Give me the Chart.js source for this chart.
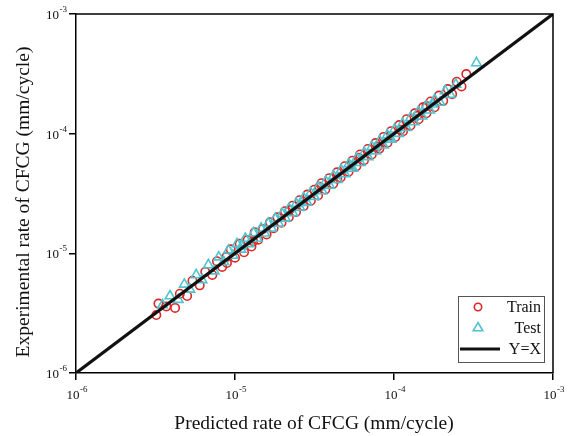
<!DOCTYPE html>
<html>
<head>
<meta charset="utf-8">
<script src="https://cdn.jsdelivr.net/npm/chart.js@4.4.1/dist/chart.umd.min.js"></script>
<style>
  body { margin: 0; background: #fff; }
  #wrap { width: 573px; height: 436px; }
</style>
</head>
<body>
<div id="wrap"><canvas id="chart" width="573" height="436"></canvas></div>
<script>
// decade ticks and their exponent labels
const decades = [1e-6, 1e-5, 1e-4, 1e-3];
const tickExponents = ['-6', '-5', '-4', '-3'];

// Train: predicted (x) vs experimental (y)
const trainPred = [3.2e-6, 3.3e-6, 3.7e-6, 4.2e-6, 4.5e-6, 5.0e-6, 5.4e-6, 6.0e-6, 6.5e-6, 7.2e-6,
  7.7e-6, 8.3e-6, 8.9e-6, 9.4e-6, 1.0e-5, 1.07e-5, 1.14e-5, 1.2e-5, 1.27e-5, 1.33e-5,
  1.4e-5, 1.5e-5, 1.58e-5, 1.66e-5, 1.75e-5, 1.85e-5, 1.96e-5, 2.06e-5, 2.18e-5, 2.3e-5,
  2.42e-5, 2.55e-5, 2.7e-5, 2.85e-5, 3.0e-5, 3.15e-5, 3.33e-5, 3.5e-5, 3.7e-5, 3.92e-5,
  4.15e-5, 4.38e-5, 4.62e-5, 4.9e-5, 5.18e-5, 5.48e-5, 5.8e-5, 6.12e-5, 6.48e-5, 6.85e-5,
  7.25e-5, 7.65e-5, 8.1e-5, 8.6e-5, 9.1e-5, 9.6e-5, 1.02e-4, 1.08e-4, 1.14e-4, 1.2e-4,
  1.27e-4, 1.35e-4, 1.43e-4, 1.52e-4, 1.6e-4, 1.7e-4, 1.8e-4, 1.92e-4, 2.04e-4, 2.18e-4,
  2.32e-4, 2.48e-4, 2.66e-4, 2.85e-4,
  2.2e-5, 4.4e-5, 6.0e-5, 1.1e-4, 1.6e-4, 8.8e-6, 1.3e-5, 3.4e-5, 7.9e-5, 1.4e-4];
const trainExp = [3.05e-6, 3.8e-6, 3.6e-6, 3.5e-6, 4.6e-6, 4.4e-6, 5.9e-6, 5.4e-6, 7.0e-6, 6.6e-6,
  8.6e-6, 7.7e-6, 8.3e-6, 1.08e-5, 9.2e-6, 1.2e-5, 1.02e-5, 1.29e-5, 1.14e-5, 1.5e-5,
  1.3e-5, 1.6e-5, 1.44e-5, 1.82e-5, 1.62e-5, 2.0e-5, 1.8e-5, 2.25e-5, 2.0e-5, 2.5e-5,
  2.22e-5, 2.78e-5, 2.48e-5, 3.1e-5, 2.75e-5, 3.4e-5, 3.05e-5, 3.85e-5, 3.42e-5, 4.25e-5,
  3.82e-5, 4.75e-5, 4.3e-5, 5.35e-5, 4.8e-5, 5.95e-5, 5.35e-5, 6.7e-5, 6.0e-5, 7.45e-5,
  6.7e-5, 8.35e-5, 7.5e-5, 9.4e-5, 8.4e-5, 1.05e-4, 9.4e-5, 1.18e-4, 1.05e-4, 1.32e-4,
  1.17e-4, 1.48e-4, 1.32e-4, 1.66e-4, 1.48e-4, 1.86e-4, 1.66e-4, 2.08e-4, 1.88e-4, 2.36e-4,
  2.14e-4, 2.72e-4, 2.48e-4, 3.15e-4,
  2.3e-5, 4.2e-5, 6.3e-5, 1.08e-4, 1.7e-4, 9.3e-6, 1.26e-5, 3.6e-5, 7.8e-5, 1.41e-4];

// Test: predicted (x) vs experimental (y)
const testPred = [3.5e-6, 3.9e-6, 4.4e-6, 4.8e-6, 5.2e-6, 5.7e-6, 6.2e-6, 6.8e-6, 7.4e-6, 7.9e-6,
  8.5e-6, 9.1e-6, 9.7e-6, 1.03e-5, 1.09e-5, 1.16e-5, 1.23e-5, 1.31e-5, 1.38e-5, 1.46e-5,
  1.54e-5, 1.62e-5, 1.7e-5, 1.79e-5, 1.88e-5, 1.98e-5, 2.08e-5, 2.19e-5, 2.31e-5, 2.43e-5,
  2.56e-5, 2.7e-5, 2.84e-5, 2.99e-5, 3.16e-5, 3.34e-5, 3.53e-5, 3.73e-5, 3.94e-5, 4.16e-5,
  4.4e-5, 4.65e-5, 4.92e-5, 5.2e-5, 5.5e-5, 5.82e-5, 6.15e-5, 6.5e-5, 6.87e-5, 7.26e-5,
  7.68e-5, 8.12e-5, 8.58e-5, 9.07e-5, 9.6e-5, 1.01e-4, 1.07e-4, 1.13e-4, 1.2e-4, 1.27e-4,
  1.34e-4, 1.42e-4, 1.5e-4, 1.59e-4, 1.68e-4, 1.8e-4, 1.95e-4, 2.1e-4, 2.26e-4, 2.45e-4,
  3.3e-4,
  1.1e-5, 2.6e-5, 5.3e-5, 9.3e-5, 1.75e-4];
const testExp = [3.7e-6, 4.4e-6, 4.1e-6, 5.5e-6, 5.0e-6, 6.6e-6, 6.0e-6, 8.0e-6, 7.1e-6, 9.3e-6,
  8.5e-6, 1.06e-5, 9.6e-6, 1.2e-5, 1.08e-5, 1.33e-5, 1.2e-5, 1.48e-5, 1.33e-5, 1.62e-5,
  1.47e-5, 1.78e-5, 1.62e-5, 1.95e-5, 1.78e-5, 2.15e-5, 1.96e-5, 2.36e-5, 2.18e-5, 2.6e-5,
  2.42e-5, 2.9e-5, 2.66e-5, 3.2e-5, 2.98e-5, 3.58e-5, 3.32e-5, 4.0e-5, 3.7e-5, 4.45e-5,
  4.12e-5, 4.98e-5, 4.6e-5, 5.58e-5, 5.12e-5, 6.22e-5, 5.72e-5, 6.95e-5, 6.4e-5, 7.78e-5,
  7.15e-5, 8.7e-5, 8.0e-5, 9.72e-5, 8.95e-5, 1.09e-4, 1.0e-4, 1.21e-4, 1.12e-4, 1.36e-4,
  1.25e-4, 1.52e-4, 1.4e-4, 1.7e-4, 1.57e-4, 1.93e-4, 1.82e-4, 2.28e-4, 2.12e-4, 2.58e-4,
  3.9e-4,
  1.15e-5, 2.65e-5, 5.3e-5, 9.2e-5, 1.76e-4];

// Y=X reference line end points
const lineX = [1e-6, 1e-3];

const RED = '#dc2626';
const CYAN = '#4fc4ce';
const SERIF = '"Liberation Serif", "Times New Roman", serif';

const toPoints = (xs, ys) => xs.map((x, i) => ({ x: x, y: ys[i] }));

// draws box, superscript tick labels, axis titles and legend
const decorPlugin = {
    id: 'decor',
    afterDraw(chart) {
        const ctx = chart.ctx;
        const area = chart.chartArea;
        const xs = chart.scales.x;
        const ys = chart.scales.y;
        ctx.save();

        // top and right frame
        ctx.strokeStyle = '#000';
        ctx.lineWidth = 1.5;
        ctx.beginPath();
        ctx.moveTo(area.left, area.top);
        ctx.lineTo(area.right, area.top);
        ctx.lineTo(area.right, area.bottom);
        ctx.stroke();

        ctx.fillStyle = '#111';
        // y tick labels
        decades.forEach((v, i) => {
            const py = ys.getPixelForValue(v);
            ctx.font = '9px ' + SERIF;
            ctx.textAlign = 'right';
            ctx.textBaseline = 'alphabetic';
            const supW = ctx.measureText(tickExponents[i]).width;
            const right = 67;
            ctx.fillText(tickExponents[i], right, py - 2);
            ctx.font = '13px ' + SERIF;
            ctx.fillText('10', right - supW - 0.5, py + 5);
        });
        // x tick labels
        decades.forEach((v, i) => {
            const px = xs.getPixelForValue(v);
            ctx.font = '13px ' + SERIF;
            ctx.textAlign = 'left';
            ctx.textBaseline = 'alphabetic';
            const baseW = ctx.measureText('10').width;
            ctx.fillText('10', px - baseW / 2 - 3, 399);
            ctx.font = '9px ' + SERIF;
            ctx.fillText(tickExponents[i], px + baseW / 2 - 2.5, 392);
        });

        // axis titles
        ctx.font = '19.5px ' + SERIF;
        ctx.textAlign = 'center';
        ctx.textBaseline = 'middle';
        ctx.fillText('Predicted rate of CFCG (mm/cycle)', 314, 424);
        ctx.save();
        ctx.translate(24, 202);
        ctx.rotate(-Math.PI / 2);
        ctx.fillText('Experimental rate of CFCG (mm/cycle)', 0, 0);
        ctx.restore();

        // legend
        const lx = 458, ly = 296, lw = 86, lh = 66;
        ctx.fillStyle = '#fff';
        ctx.fillRect(lx, ly, lw, lh);
        ctx.strokeStyle = '#555';
        ctx.lineWidth = 1;
        ctx.strokeRect(lx + 0.5, ly + 0.5, lw, lh);
        const sets = chart.data.datasets;
        const rows = [ly + 11, ly + 32, ly + 53];
        sets.forEach((ds, i) => {
            const cy = rows[i];
            if (ds.type === 'line') {
                ctx.strokeStyle = ds.borderColor;
                ctx.lineWidth = 3;
                ctx.beginPath();
                ctx.moveTo(lx + 2, cy);
                ctx.lineTo(lx + 42, cy);
                ctx.stroke();
            } else {
                const r = ds.pointRadius;
                ctx.strokeStyle = ds.borderColor;
                ctx.lineWidth = ds.borderWidth;
                ctx.beginPath();
                if (ds.pointStyle === 'circle') {
                    ctx.arc(lx + 20, cy, r - 0.5, 0, Math.PI * 2);
                } else {
                    ctx.moveTo(lx + 20, cy - r);
                    ctx.lineTo(lx + 20 + r * 0.87, cy + r * 0.5);
                    ctx.lineTo(lx + 20 - r * 0.87, cy + r * 0.5);
                    ctx.closePath();
                }
                ctx.stroke();
            }
            ctx.fillStyle = '#111';
            ctx.font = '16px ' + SERIF;
            ctx.textAlign = 'right';
            ctx.textBaseline = 'middle';
            ctx.fillText(ds.label, lx + lw - 3, cy + 1);
        });
        ctx.restore();
    }
};

const decadeTicks = scale => {
    scale.ticks = decades.map(v => ({ value: v }));
};

new Chart(document.getElementById('chart'), {
    type: 'scatter',
    data: {
        datasets: [
            {
                label: 'Train',
                data: toPoints(trainPred, trainExp),
                pointStyle: 'circle',
                pointRadius: 4.2,
                borderColor: RED,
                backgroundColor: 'rgba(0,0,0,0)',
                borderWidth: 1.6,
                order: 3
            },
            {
                label: 'Test',
                data: toPoints(testPred, testExp),
                pointStyle: 'triangle',
                pointRadius: 5.5,
                borderColor: CYAN,
                backgroundColor: 'rgba(0,0,0,0)',
                borderWidth: 1.6,
                order: 2
            },
            {
                type: 'line',
                label: 'Y=X',
                data: toPoints(lineX, lineX),
                borderColor: '#111',
                borderWidth: 3.2,
                pointRadius: 0,
                fill: false,
                order: 1
            }
        ]
    },
    options: {
        responsive: false,
        animation: false,
        layout: { padding: { left: 0, top: 14, right: 20, bottom: 0 } },
        plugins: {
            legend: { display: false },
            tooltip: { enabled: false }
        },
        scales: {
            x: {
                type: 'logarithmic',
                min: 1e-6,
                max: 1e-3,
                afterBuildTicks: decadeTicks,
                afterFit: scale => { scale.height = 63; },
                ticks: { display: false },
                grid: { drawOnChartArea: false, drawTicks: true, tickLength: 7, color: '#000', lineWidth: 1.5 },
                border: { display: true, color: '#000', width: 1.5 }
            },
            y: {
                type: 'logarithmic',
                min: 1e-6,
                max: 1e-3,
                afterBuildTicks: decadeTicks,
                afterFit: scale => { scale.width = 76; },
                ticks: { display: false },
                grid: { drawOnChartArea: false, drawTicks: true, tickLength: 7, color: '#000', lineWidth: 1.5 },
                border: { display: true, color: '#000', width: 1.5 }
            }
        }
    },
    plugins: [decorPlugin]
});
</script>
</body>
</html>
